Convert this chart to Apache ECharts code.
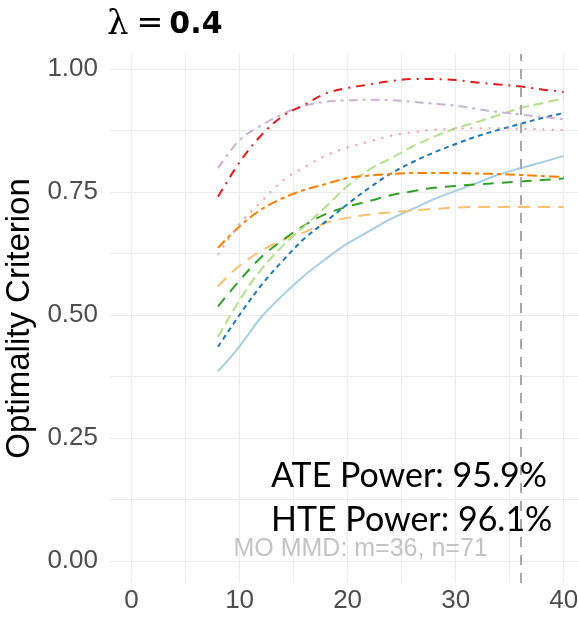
<!DOCTYPE html>
<html>
<head>
<meta charset="utf-8">
<script src="https://cdn.jsdelivr.net/npm/echarts@6/dist/echarts.min.js"></script>
<style>
html,body{margin:0;padding:0;background:#fff;}
#chart{width:578px;height:619px;}
</style>
</head>
<body>
<div id="chart"></div>
<script>
// ---- data ----
const xValues = [8,10,12,14,16,18,20,22,24,26,28,30,32,34,36,38,40];
const lightBlueVals   = [0.385,0.436,0.495,0.540,0.580,0.614,0.645,0.670,0.695,0.715,0.735,0.752,0.768,0.785,0.798,0.810,0.823];
const darkBlueVals    = [0.435,0.500,0.560,0.610,0.655,0.690,0.725,0.758,0.787,0.810,0.830,0.847,0.863,0.876,0.888,0.900,0.910];
const lightGreenVals  = [0.455,0.530,0.592,0.640,0.680,0.720,0.762,0.795,0.818,0.842,0.862,0.879,0.892,0.906,0.920,0.930,0.940];
const darkGreenVals   = [0.517,0.570,0.617,0.652,0.682,0.705,0.720,0.731,0.743,0.751,0.758,0.762,0.765,0.768,0.771,0.774,0.777];
const lightOrangeVals = [0.558,0.600,0.630,0.652,0.668,0.687,0.697,0.704,0.708,0.712,0.715,0.718,0.719,0.719,0.719,0.719,0.719];
const orangeVals      = [0.636,0.680,0.714,0.737,0.754,0.766,0.778,0.783,0.786,0.788,0.788,0.788,0.787,0.786,0.784,0.782,0.780];
const pinkVals        = [0.622,0.685,0.730,0.773,0.800,0.824,0.840,0.852,0.864,0.871,0.876,0.878,0.879,0.879,0.878,0.877,0.875];
const redVals         = [0.740,0.810,0.865,0.904,0.927,0.950,0.961,0.968,0.975,0.979,0.979,0.977,0.972,0.968,0.964,0.958,0.953];
const lavenderVals    = [0.798,0.855,0.885,0.908,0.925,0.933,0.936,0.937,0.936,0.933,0.929,0.925,0.918,0.912,0.907,0.902,0.898];
const vlineX = 36;
const xTickLabels = [0,10,20,30,40];
const xGridValues = [0,5,10,15,20,25,30,35,40];
const yTickLabels = [0,0.25,0.5,0.75,1];
const yGridValues = [0,0.125,0.25,0.375,0.5,0.625,0.75,0.875,1];
const titleLambda = 'λ';
const titleValue = '0.4';
const yTitle = 'Optimality Criterion';
const annoMMD = 'MO MMD: m=36, n=71';
const annoMMDx = 21.2, annoMMDy = 0.024;
const ateText = 'ATE Power: 95.9%';
const hteText = 'HTE Power: 96.1%';

function pairs(vals){ return xValues.map((x,i)=>[x, vals[i]]); }

function mk(name, vals, color, dash, extra){
  return Object.assign({
    name, type:'line', data: pairs(vals), showSymbol:false, smooth:0.35,
    lineStyle:{color, width:2, type:dash}, itemStyle:{color}, z:3
  }, extra||{});
}

const series = [
  mk('lb', lightBlueVals, '#A6CEE3', 'solid'),
  mk('lo', lightOrangeVals, '#FDBF6F', [12,8]),
  mk('dg', darkGreenVals, '#33A02C', [11,8]),
  mk('db', darkBlueVals, '#1F78B4', [5,4]),
  mk('lg', lightGreenVals, '#B2DF8A', [10,5]),
  mk('or', orangeVals, '#FF7F00', [10,4,4,4]),
  mk('pk', pinkVals, '#FB9A99', [2,7]),
  mk('lv', lavenderVals, '#CAB2D6', [9,5,3,5]),
  mk('rd', redVals, '#E31A1C', [9,6,2,6], {
    markLine:{
      silent:true, symbol:['none','none'], label:{show:false},
      lineStyle:{color:'#A8A8A8', type:[10,8], width:2},
      data:[{xAxis: vlineX}]
    }
  }),
  {
    type:'scatter', data:[[annoMMDx, annoMMDy]], symbolSize:0, silent:true,
    label:{show:true, position:'inside', formatter: annoMMD, color:'#B4B4B4',
      fontFamily:'Liberation Sans, Arial', fontSize:25}
  }
];

const chart = echarts.init(document.getElementById('chart'), null, {renderer:'canvas'});
chart.setOption({
  backgroundColor:'#ffffff',
  animation:false,
  grid:{left:110, top:54, right:0, bottom:36, containLabel:false, outerBoundsMode:'none'},
  xAxis:{
    type:'value', min:-2, max:41.33,
    axisLine:{show:false},
    axisTick:{show:false, customValues: xGridValues},
    axisLabel:{customValues: xTickLabels, color:'#4D4D4D', fontSize:26,
      fontFamily:'Liberation Sans, Arial', margin:5},
    splitLine:{show:true, lineStyle:{color:'#EBEBEB', width:1}}
  },
  yAxis:{
    type:'value', min:-0.045, max:1.03,
    name: yTitle, nameLocation:'middle', nameGap:63, nameRotate:90,
    nameTextStyle:{color:'#000', fontSize:33, fontFamily:'Liberation Sans, Arial'},
    axisLine:{show:false},
    axisTick:{show:false, customValues: yGridValues},
    axisLabel:{customValues: yTickLabels, color:'#4D4D4D', fontSize:26,
      fontFamily:'Liberation Sans, Arial', margin:12,
      formatter: v => v.toFixed(2)},
    splitLine:{show:true, lineStyle:{color:'#EBEBEB', width:1}}
  },
  graphic:[
    {type:'text', left:107, top:8, style:{
      text:'{l|'+titleLambda+'}{e|=}{v|'+titleValue+'}',
      rich:{
        l:{fontFamily:'DejaVu Serif, Liberation Serif', fontSize:34, fill:'#000', padding:[0,8,0,0]},
        e:{fontFamily:'DejaVu Sans', fontSize:32, fill:'#000', padding:[0,6,0,0]},
        v:{fontFamily:'DejaVu Sans', fontSize:30, fontWeight:'bold', fill:'#000'}
      }
    }},
    {type:'text', left:271, top:459, z:10, style:{text: ateText, fontFamily:'Lato, Open Sans', fontSize:34, fill:'#000'}},
    {type:'text', left:271, top:503, z:10, style:{text: hteText, fontFamily:'Lato, Open Sans', fontSize:34, fill:'#000'}}
  ],
  series
});
</script>
</body>
</html>
